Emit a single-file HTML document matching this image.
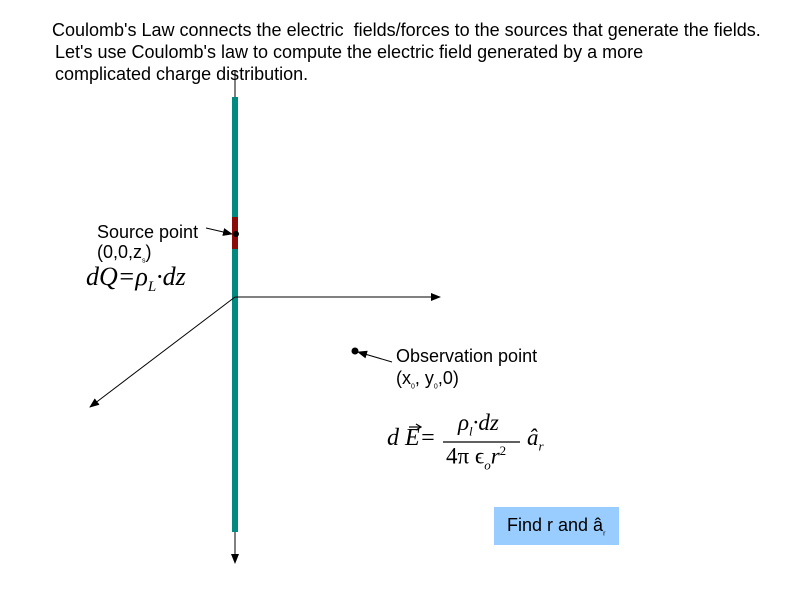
<!DOCTYPE html>
<html><head><style>
body{margin:0;width:800px;height:600px;background:#fff;overflow:hidden;position:relative;font-family:"Liberation Sans",sans-serif}
.t{position:absolute;font-size:18px;color:#000;white-space:nowrap;line-height:22px}
.m{position:absolute;font-family:"Liberation Serif",serif;font-style:italic;white-space:nowrap}
</style></head><body>
<svg width="800" height="600" style="position:absolute;left:0;top:0">
<defs><marker id="a" markerWidth="10" markerHeight="8" refX="9" refY="4" orient="auto" markerUnits="userSpaceOnUse"><path d="M0,0 L10,4 L0,8z" fill="#000"/></marker></defs>
<line x1="235" y1="70" x2="235" y2="563" stroke="#000" stroke-width="1" marker-end="url(#a)"/>
<rect x="232" y="97" width="6" height="435" fill="#008a80"/>
<rect x="232" y="217" width="6" height="32" fill="#8b0a0a"/>
<circle cx="236" cy="234" r="3" fill="#000"/>
<line x1="235" y1="297" x2="440" y2="297" stroke="#000" marker-end="url(#a)"/>
<line x1="235" y1="297" x2="90" y2="407" stroke="#000" marker-end="url(#a)"/>
<line x1="206" y1="228" x2="232" y2="234" stroke="#000" marker-end="url(#a)"/>
<circle cx="355" cy="351" r="3.5" fill="#000"/>
<line x1="392" y1="362" x2="358" y2="352" stroke="#000" marker-end="url(#a)"/>
<line x1="443" y1="442" x2="520" y2="442" stroke="#000" stroke-width="1.3"/>
<line x1="409" y1="427" x2="420" y2="427" stroke="#000" stroke-width="1.2"/>
<path d="M416,424 L421,427 L416,430" fill="none" stroke="#000" stroke-width="1.2"/>
<rect x="494" y="507" width="125" height="38" fill="#99ccff"/>
</svg>
<div class="t" style="left:52px;top:19px">Coulomb's Law connects the electric&nbsp; fields/forces to the sources that generate the fields.</div>
<div class="t" style="left:55px;top:41px">Let's use Coulomb's law to compute the electric field generated by a more</div>
<div class="t" style="left:55px;top:63px">complicated charge distribution.</div>
<div class="t" style="left:97px;top:221px">Source point</div>
<div class="t" style="left:97px;top:241px">(0,0,z<sub style="font-size:7px">s</sub>)</div>
<div class="m" style="left:86px;top:262px;font-size:26px">dQ=ρ<sub style="font-size:15px">L</sub>·dz</div>
<div class="t" style="left:396px;top:345px">Observation point</div>
<div class="t" style="left:396px;top:367px">(x<sub style="font-size:7px">0</sub>, y<sub style="font-size:7px">0</sub>,0)</div>
<div class="m" style="left:387px;top:425px;font-size:24px">d E=</div>
<div class="m" style="left:458px;top:410px;font-size:23px">ρ<sub style="font-size:13px">l</sub>·dz</div>
<div class="m" style="left:446px;top:443px;font-size:23px;font-style:normal">4π ϵ<sub style="font-size:13px;font-style:italic">o</sub><i>r</i><sup style="font-size:13px">2</sup></div>
<div class="m" style="left:527px;top:425px;font-size:23px">â<sub style="font-size:13px">r</sub></div>
<div class="t" style="left:507px;top:514px">Find r and â<sub style="font-size:7px">r</sub></div>
</body></html>
